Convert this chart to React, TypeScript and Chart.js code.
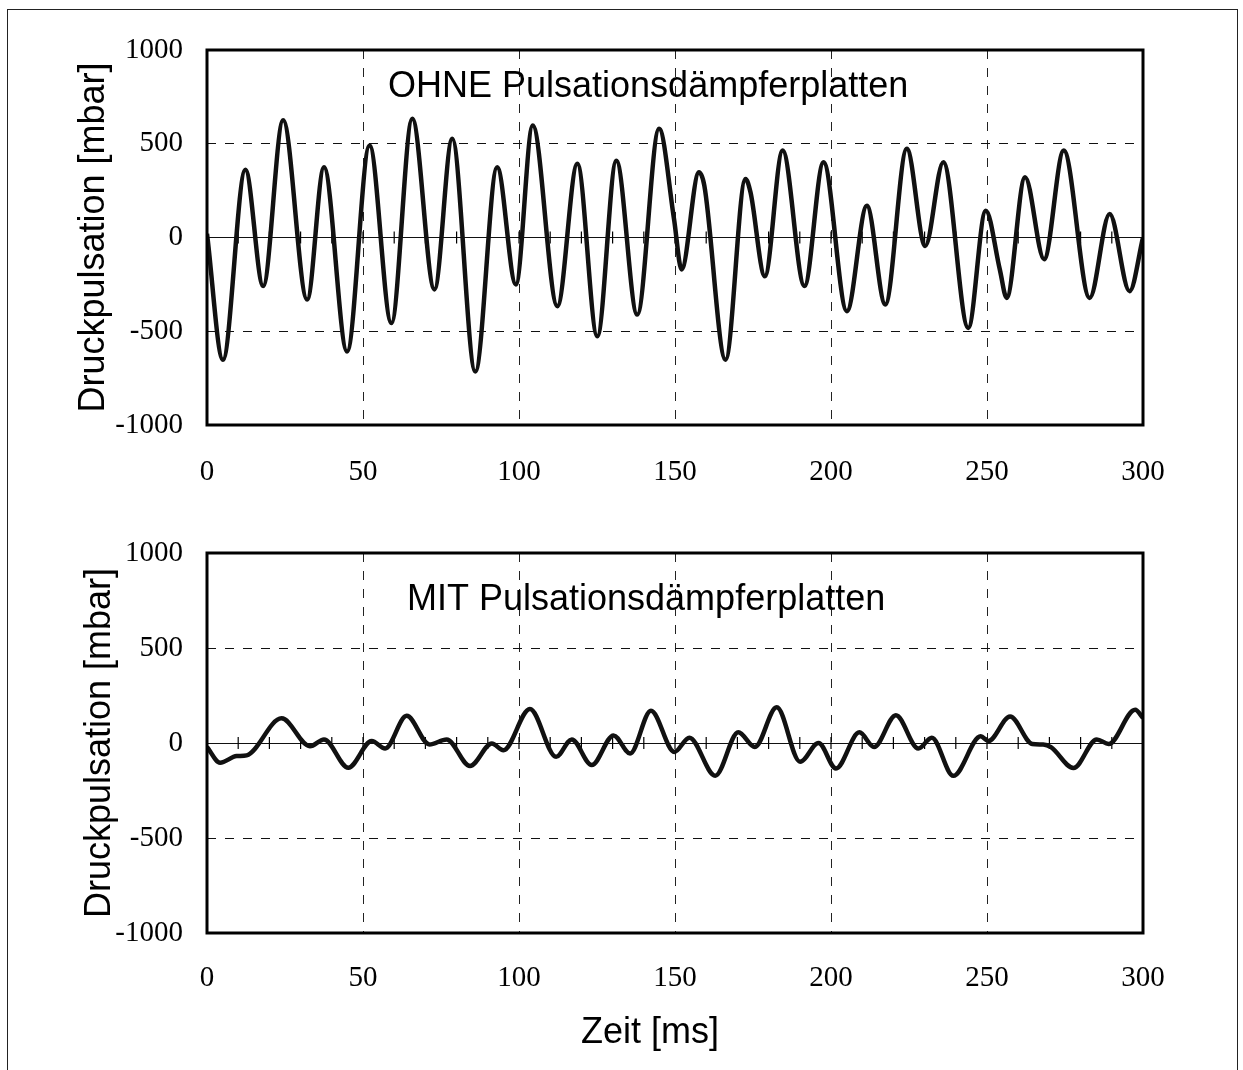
import React, { useEffect, useRef } from "react";
import { Chart, registerables } from "chart.js";

Chart.register(...registerables);

// ---------- data ----------
const xTicks = [0, 50, 100, 150, 200, 250, 300];
const yTicks = [-1000, -500, 0, 500, 1000];
const minorTickStep = 10;

const yTitle = "Druckpulsation [mbar]";
const xTitle = "Zeit [ms]";
const titleOhne = "OHNE Pulsationsdämpferplatten";
const titleMit = "MIT Pulsationsdämpferplatten";

// OHNE Pulsationsdämpferplatten: time [ms]
const ohneTime = [
  0, 5.1, 12.3, 18.0, 24.4, 32.1, 37.5, 44.9, 52.1, 59.1, 65.8, 72.9, 78.6, 86.0,
  93.0, 99.0, 104.4, 112.3, 118.7, 125.1, 131.2, 137.9, 144.9, 149.7, 152.1, 157.7,
  159.4, 166.2, 172.6, 174.2, 178.8, 184.5, 191.5, 197.6, 205.1, 211.5, 217.4, 224.3,
  230.2, 236.0, 244.0, 249.6, 254.1, 256.3, 262.2, 268.3, 274.6, 282.9, 289.3, 295.7,
  300,
];
// OHNE Pulsationsdämpferplatten: pressure [mbar]
const ohneDruck = [
  20, -652, 362, -259, 625, -331, 375, -608, 491, -456, 634, -277, 527, -715,
  375, -250, 598, -366, 393, -527, 410, -411, 580, 97, -170, 348,
  277, -652, 312, 241, -206, 464, -259, 402, -393, 169, -357, 473,
  -45, 402, -482, 143, -170, -322, 322, -116, 464, -322, 125, -286,
  0,
];

// MIT Pulsationsdämpferplatten: time [ms]
const mitTime = [
  0, 4.2, 9.5, 12.7, 23.9, 33.0, 37.5, 45.3, 52.8, 57.1, 64.0, 71.3, 76.8, 84.3,
  91.3, 95.0, 103.5, 111.9, 116.9, 123.3, 130.3, 135.6, 142.3, 149.8, 154.6, 162.9,
  170.3, 175.6, 182.6, 190.1, 196.0, 201.6, 209.1, 213.8, 220.8, 228.0, 232.3, 239.2,
  248.0, 250.4, 257.4, 264.5, 268.0, 270.5, 277.7, 285.2, 289.0, 297.5, 300,
];
// MIT Pulsationsdämpferplatten: pressure [mbar]
const mitDruck = [
  -21, -104, -69, -65, 130, -17, 19, -130, 10, -29, 143, -8, 19, -121,
  -3, -38, 179, -73, 19, -116, 40, -55, 170, -47, 28, -172,
  57, -21, 188, -99, 0, -134, 56, -21, 146, -29, 28, -173,
  35, 10, 139, -5, -8, -22, -132, 19, -5, 175, 132,
];

// ---------- styling ----------
const SANS = "'Liberation Sans', Arial, sans-serif";
const SERIF = "'Liberation Serif', 'Times New Roman', serif";
const W = 1243;

const framePlugin = {
  id: "frame",
  beforeDatasetsDraw(chart: any) {
    const { ctx, scales } = chart;
    const xs = scales.x;
    const y0 = scales.y.getPixelForValue(0);
    ctx.save();
    ctx.strokeStyle = "#000";
    ctx.lineWidth = 1.2;
    for (let t = minorTickStep; t < xTicks[xTicks.length - 1]; t += minorTickStep) {
      const px = xs.getPixelForValue(t);
      ctx.beginPath();
      ctx.moveTo(px, y0 - 6);
      ctx.lineTo(px, y0 + 6);
      ctx.stroke();
    }
    ctx.restore();
  },
  afterDatasetsDraw(chart: any) {
    const { ctx, chartArea: a } = chart;
    ctx.save();
    ctx.strokeStyle = "#000";
    ctx.lineWidth = 3;
    ctx.strokeRect(a.left, a.top, a.right - a.left, a.bottom - a.top);
    ctx.restore();
  },
  afterDraw(chart: any, _args: any, opts: any) {
    const { ctx } = chart;
    const items = (opts && opts.items) || [];
    ctx.save();
    ctx.fillStyle = "#000";
    ctx.textBaseline = "alphabetic";
    ctx.textAlign = "left";
    for (const it of items) {
      ctx.font = it.font;
      ctx.fillText(it.text, it.x, it.y);
    }
    ctx.restore();
  },
};

type Props = {
  times: number[];
  values: number[];
  height: number;
  top: number;
  padTop: number;
  padBottom: number;
  xTickPad: number;
  yTitlePad: number;
  texts: { text: string; x: number; y: number; font: string }[];
};

function PressureChart(p: Props) {
  const ref = useRef<HTMLCanvasElement | null>(null);
  useEffect(() => {
    if (!ref.current) return;
    const data = p.times.map((t, i) => ({ x: t, y: p.values[i] }));
    const chart = new Chart(ref.current, {
      type: "line",
      data: {
        datasets: [
          {
            data,
            borderColor: "#111",
            borderWidth: 4.5,
            pointRadius: 0,
            cubicInterpolationMode: "monotone",
            fill: false,
          },
        ],
      },
      options: {
        animation: false,
        responsive: false,
        devicePixelRatio: 1,
        events: [],
        layout: { padding: { left: 0, right: W - 1143, top: p.padTop, bottom: p.padBottom } },
        plugins: {
          legend: { display: false },
          tooltip: { enabled: false },
          frame: { items: p.texts },
        } as any,
        scales: {
          x: {
            type: "linear",
            min: xTicks[0],
            max: xTicks[xTicks.length - 1],
            afterBuildTicks: (s: any) => {
              s.ticks = xTicks.map((v) => ({ value: v }));
            },
            afterFit: (s: any) => {
              s.height = 60;
            },
            ticks: {
              padding: p.xTickPad,
              color: "#000",
              font: { family: SERIF, size: 29 },
              maxRotation: 0,
              callback: (v: any) => String(v),
            },
            grid: {
              drawTicks: false,
              lineWidth: 1,
              color: (c: any) =>
                c.tick && (c.tick.value === xTicks[0] || c.tick.value === xTicks[xTicks.length - 1])
                  ? "rgba(0,0,0,0)"
                  : "#222",
            },
            border: { display: false, dash: [9, 9] },
          },
          y: {
            type: "linear",
            min: yTicks[0],
            max: yTicks[yTicks.length - 1],
            afterBuildTicks: (s: any) => {
              s.ticks = yTicks.map((v) => ({ value: v }));
            },
            afterFit: (s: any) => {
              s.width = 207;
            },
            ticks: {
              padding: 24,
              color: "#000",
              font: { family: SERIF, size: 29 },
              callback: (v: any) => String(v),
            },
            title: {
              display: true,
              text: yTitle,
              color: "#000",
              font: { family: SANS, size: 36 },
              padding: { top: p.yTitlePad, bottom: 0 },
            },
            grid: {
              drawTicks: false,
              lineWidth: 1,
              color: (c: any) =>
                c.tick && Math.abs(c.tick.value) === 1000 ? "rgba(0,0,0,0)" : "#111",
            },
            border: {
              display: false,
              dash: (c: any) => (c.tick && c.tick.value === 0 ? [] : [9, 9]),
            } as any,
          },
        },
      },
      plugins: [framePlugin as any],
    });
    return () => chart.destroy();
  }, []);
  return (
    <canvas
      ref={ref}
      width={W}
      height={p.height}
      style={{ position: "absolute", left: 0, top: p.top, width: W, height: p.height }}
    />
  );
}

export default function App() {
  return (
    <div
      style={{
        position: "absolute",
        left: 0,
        top: 0,
        width: W,
        height: 1070,
        background: "#fff",
        overflow: "hidden",
      }}
    >
      <div
        style={{
          position: "absolute",
          left: 7,
          top: 9,
          width: 1229,
          height: 1080,
          borderLeft: "1.5px solid #222",
          borderTop: "1.5px solid #222",
          borderRight: "1.5px solid #222",
        }}
      />
      <PressureChart
        times={ohneTime}
        values={ohneDruck}
        height={511}
        top={0}
        padTop={50}
        padBottom={26}
        xTickPad={30}
        yTitlePad={72}
        texts={[{ text: titleOhne, x: 388, y: 97, font: `36px ${SANS}` }]}
      />
      <PressureChart
        times={mitTime}
        values={mitDruck}
        height={559}
        top={511}
        padTop={42}
        padBottom={77}
        xTickPad={28}
        yTitlePad={78}
        texts={[
          { text: titleMit, x: 407, y: 99, font: `36px ${SANS}` },
          { text: xTitle, x: 581, y: 532, font: `36px ${SANS}` },
        ]}
      />
    </div>
  );
}
